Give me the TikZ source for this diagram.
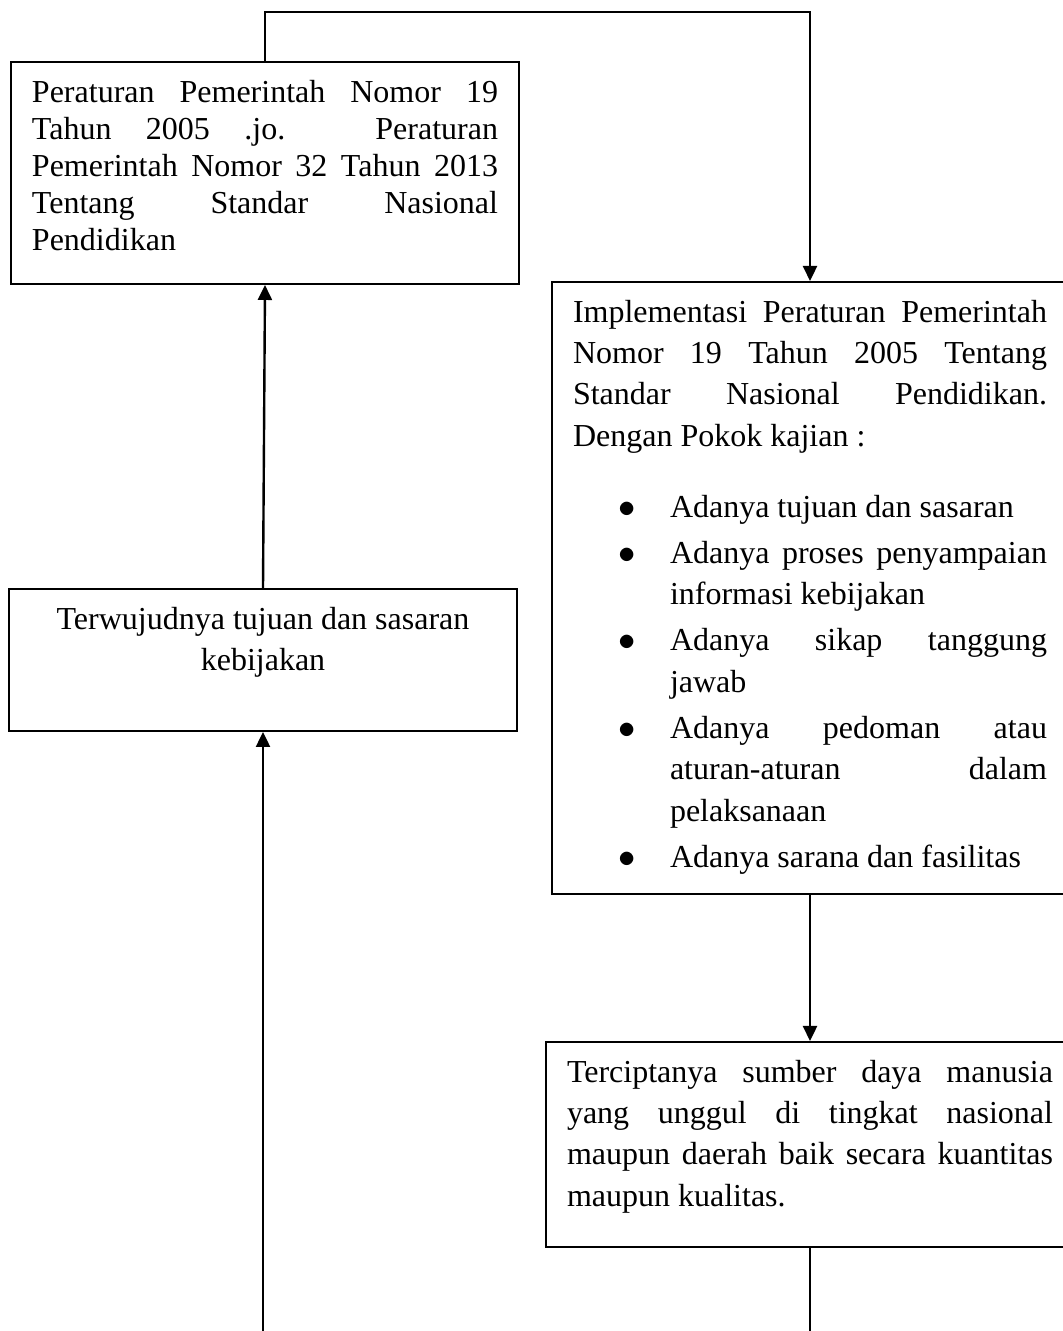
\documentclass[tikz,border=0pt]{standalone}
\usepackage{fontspec}
\setmainfont{Liberation Serif}
\usepackage{tikz}
\usetikzlibrary{arrows.meta}
\hyphenpenalty=10000
\exhyphenpenalty=10000
\tolerance=10000

\begin{document}
\begin{tikzpicture}[x=0.5pt, y=0.5pt,
  kotak/.style={draw, line width=1pt, inner xsep=10.5pt, inner ysep=9pt, anchor=north west, font=\fontsize{16}{20.7}\selectfont},
  panah/.style={line width=1.2pt, -{Triangle[width=7pt, length=7.5pt]}},
  garis/.style={line width=1.2pt}]
\useasboundingbox (0,0) rectangle (1063,1331);
\node[kotak, font=\fontsize{16}{18.5}\selectfont] (pp) at (10,1270) {\parbox[t][93pt][t]{233pt}{Peraturan Pemerintah Nomor 19\linebreak Tahun 2005 .jo. Peraturan\linebreak Pemerintah Nomor 32 Tahun 2013\linebreak Tentang Standar Nasional\linebreak Pendidikan}};
\node[kotak] (impl) at (551,1050) {\parbox[t][288pt][t]{237pt}{Implementasi Peraturan Pemerintah\linebreak Nomor 19 Tahun 2005 Tentang\linebreak Standar Nasional Pendidikan.\linebreak Dengan Pokok kajian :
\begin{list}{$\bullet$}{\setlength{\leftmargin}{48.5pt}\setlength{\labelsep}{17pt}\setlength{\labelwidth}{31pt}\setlength{\itemsep}{2.4pt}\setlength{\parsep}{0pt}\setlength{\topsep}{14.7pt}\setlength{\partopsep}{0pt}}
\item Adanya tujuan dan sasaran
\item Adanya proses penyampaian\linebreak informasi kebijakan
\item Adanya sikap tanggung\linebreak jawab
\item Adanya pedoman atau\linebreak aturan-aturan dalam\linebreak pelaksanaan
\item Adanya sarana dan fasilitas
\end{list}}};
\node[kotak] (tujuan) at (8,743) {\parbox[t][53pt][t]{233pt}{\centering Terwujudnya tujuan dan sasaran\\ kebijakan}};
\node[kotak] (sdm) at (545,290) {\parbox[t][84.5pt][t]{243pt}{Terciptanya sumber daya manusia\linebreak yang unggul di tingkat nasional\linebreak maupun daerah baik secara kuantitas\linebreak maupun kualitas.}};
\coordinate (bawah) at (0,0);
\draw[panah] (pp.north) -- ++(0,49) -| (impl.north);
\draw[panah] (impl.south) -- (sdm.north);
\draw[garis] (sdm.south) -- (sdm.south |- bawah);
\draw[panah] (tujuan.south |- bawah) -- (tujuan.south);
\draw[panah] (tujuan.north) -- (pp.south);
\end{tikzpicture}
\end{document}
